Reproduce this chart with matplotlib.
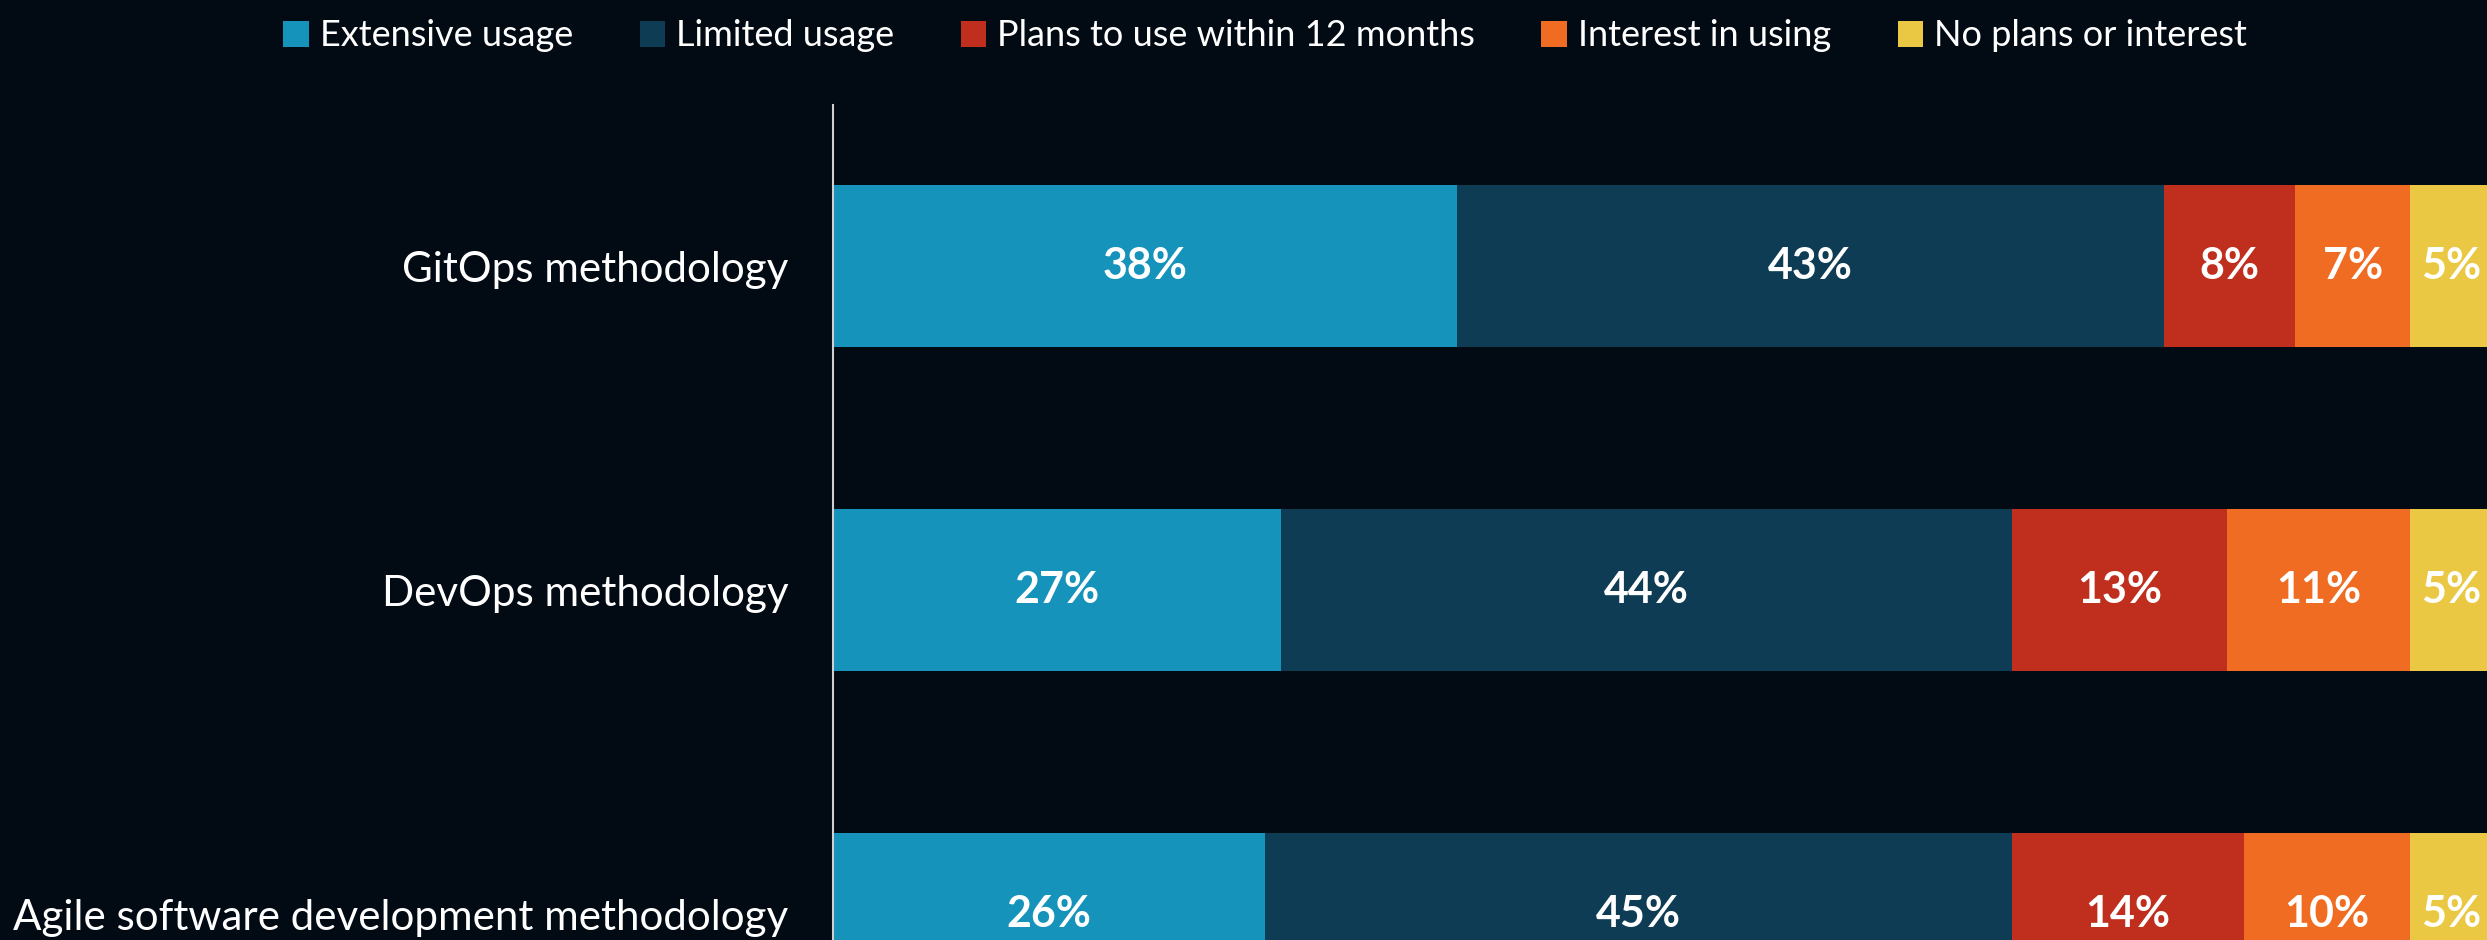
import matplotlib
matplotlib.use("Agg")
import matplotlib.pyplot as plt
from matplotlib.patches import Patch

categories = ["GitOps methodology", "DevOps methodology", "Agile software development methodology"]
series_names = ["Extensive usage", "Limited usage", "Plans to use within 12 months",
                "Interest in using", "No plans or interest"]
extensive = [37.6, 27.0, 26.0]
limited = [42.6, 44.0, 45.0]
plans = [7.9, 13.0, 14.0]
interest = [6.9, 11.0, 10.0]
no_plans = [5.0, 5.0, 5.0]
series = [extensive, limited, plans, interest, no_plans]
colors = ["#1593BA", "#0E3C55", "#C02E1E", "#F06C22", "#EAC843"]
bg = "#020A14"

FONT = ["Lato", "DejaVu Sans"]
plt.rcParams["font.family"] = FONT

W, H = 2487, 940
fig = plt.figure(figsize=(W / 100, H / 100), dpi=100)
fig.patch.set_facecolor(bg)
left_px, top_px = 833, 105
ax = fig.add_axes([left_px / W, 0, (W - left_px) / W, (H - top_px) / H])
ax.set_facecolor(bg)

ypos = list(range(len(categories)))
lefts = [0] * len(categories)
for vals, col in zip(series, colors):
    bars = ax.barh(ypos, vals, left=lefts, height=0.5, color=col, edgecolor="none")
    for b, v in zip(bars, vals):
        ax.text(b.get_x() + b.get_width() / 2, b.get_y() + b.get_height() / 2, f"{v:.0f}%",
                ha="center", va="center", color="white", fontsize=31, fontweight="bold")
    lefts = [l + v for l, v in zip(lefts, vals)]

ax.set_xlim(0, 99.64)
ax.set_ylim(2.08, -0.497)
ax.set_yticks(ypos)
ax.set_yticklabels(categories, fontsize=30.3, color="white")
ax.tick_params(axis="y", length=0, pad=32)
ax.set_xticks([])
for s in ["top", "right", "bottom"]:
    ax.spines[s].set_visible(False)
ax.spines["left"].set_color("#D0D0D0")
ax.spines["left"].set_linewidth(1.5)

handles = [Patch(facecolor=c, edgecolor="none", label=n) for c, n in zip(colors, series_names)]
leg = fig.legend(handles=handles, loc="center", bbox_to_anchor=(1265 / W, 1 - 36 / H), ncol=5,
                 frameon=False, fontsize=26, handlelength=0.7, handleheight=0.7,
                 handletextpad=0.3, columnspacing=1.85, labelcolor="white")

fig.savefig("out.png", dpi=100, facecolor=bg)
